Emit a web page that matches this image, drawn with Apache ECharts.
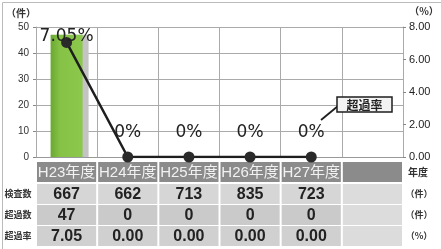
<!DOCTYPE html>
<html><head><meta charset="utf-8">
<script src="https://cdn.jsdelivr.net/npm/echarts@6/dist/echarts.min.js"></script>
<style>html,body{margin:0;padding:0;background:#fff}#c{width:441px;height:249px}</style>
</head><body><div id="c"></div>
<script>
const categories = ['H23年度','H24年度','H25年度','H26年度','H27年度',''];
const exceedCount = [47, 0, 0, 0, 0, null];
const exceedRate = [7.05, 0, 0, 0, 0, null];
const inspectText = ['667','662','713','835','723',''];
const exceedCountText = ['47','0','0','0','0',''];
const exceedRateText = ['7.05','0.00','0.00','0.00','0.00',''];
const rowLabels = ['検査数','超過数','超過率'];
const rowUnits = ['（件）','（件）','（%）'];
const headerUnit = '年度';
const seriesLabel = '超過率';

const FONT = 'Liberation Sans, Noto Sans CJK JP, sans-serif';
const chart = echarts.init(document.getElementById('c'), null, {renderer:'canvas'});

const rateData = exceedRate.map((v,i) => v == null ? null : ({
  value: v,
  label: { distance: i === 0 ? -8 : 10 }
}));

chart.setOption({
  animation: false,
  backgroundColor: '#fff',
  grid: { left: 36, right: 38, top: 27, bottom: 92 },
  xAxis: {
    type: 'category', data: categories, boundaryGap: true,
    axisLine: { show: true, lineStyle: { color: '#999' } },
    axisTick: { show: false },
    axisLabel: { show: false },
    splitLine: { show: true, interval: 0, lineStyle: { color: '#aaa', width: 1 } }
  },
  yAxis: [{
    type: 'value', min: 0, max: 50, interval: 10,
    axisLine: { show: true, lineStyle: { color: '#aaa' } },
    axisTick: { show: true, length: 3, lineStyle: { color: '#888' } },
    axisLabel: { fontSize: 10, color: '#333', margin: 7, fontFamily: FONT },
    splitLine: { show: true, lineStyle: { color: '#aaa' } }
  }, {
    type: 'value', min: 0, max: 8, interval: 2, position: 'right',
    axisLine: { show: true, lineStyle: { color: '#aaa' } },
    axisTick: { show: true, length: 3, lineStyle: { color: '#888' } },
    axisLabel: { fontSize: 11, color: '#222', margin: 6, fontFamily: FONT,
      formatter: v => v.toFixed(2) },
    splitLine: { show: false }
  }],
  series: [{
    type: 'bar', yAxisIndex: 0, data: exceedCount, barWidth: 32,
    itemStyle: {
      color: new echarts.graphic.LinearGradient(0,0,1,0,[
        {offset:0,color:'#6aa833'},{offset:0.3,color:'#86c245'},{offset:1,color:'#8cc84c'}]),
      shadowColor: '#c4c4c4', shadowOffsetX: 6, shadowOffsetY: 0, shadowBlur: 0
    },
    z: 2
  }, {
    type: 'line', yAxisIndex: 1, data: rateData,
    symbol: 'circle', symbolSize: 11,
    itemStyle: { color: '#2a2a2a' },
    lineStyle: { color: '#1e1e1e', width: 2.5 },
    label: { show: true, position: 'top', fontSize: 17, color: '#222',
      fontFamily: 'DejaVu Sans', formatter: p => p.value + '%' },
    z: 5
  }]
});

// Build table and annotations from axis positions
const colW = chart.convertToPixel({xAxisIndex:0}, 1) - chart.convertToPixel({xAxisIndex:0}, 0);
const g = [];
const rowsY = [[162,20],[184,20],[205,20],[226,20]];
const rowBg = ['#8b8b8b','#d6d6d6','#cacaca','#d0d0d0'];
const rowTexts = [categories, inspectText, exceedCountText, exceedRateText];
categories.forEach((c,i) => {
  const cx = chart.convertToPixel({xAxisIndex:0}, i);
  const x0 = cx - colW/2 + 1;
  rowsY.forEach((r,ri) => {
    g.push({ type:'rect', shape:{ x:x0, y:r[0], width:colW-2, height:r[1] },
      style:{ fill: (i===5 && ri>0) ? '#dcdcdc' : rowBg[ri] }, z: 1 });
    const t = rowTexts[ri][i];
    if (t) g.push({ type:'text', x:cx, y:r[0]+r[1]/2+0.5, z: 2,
      style:{ text:t, fill: ri===0 ? '#f2f2f2' : '#222', align:'center', verticalAlign:'middle',
        font: ri===0 ? ('15px ' + FONT) : ('bold 16px ' + FONT) } });
  });
});
rowLabels.forEach((t,ri) => {
  const r = rowsY[ri+1];
  g.push({ type:'text', x:18, y:r[0]+r[1]/2, style:{ text:t, fill:'#333', align:'center',
    verticalAlign:'middle', font:'bold 9px Noto Sans CJK JP' } });
  g.push({ type:'text', x:419, y:r[0]+r[1]/2, style:{ text:rowUnits[ri], fill:'#333', align:'center',
    verticalAlign:'middle', font:'bold 9px Noto Sans CJK JP' } });
});
g.push({ type:'text', x:418, y:172, style:{ text:headerUnit, fill:'#333', align:'center',
  verticalAlign:'middle', font:'bold 10px Noto Sans CJK JP' } });
// axis unit names
g.push({ type:'text', x:21, y:13, style:{ text:'（件）', fill:'#333', align:'center',
  verticalAlign:'middle', font:'bold 10px Noto Sans CJK JP' } });
g.push({ type:'text', x:424, y:11, style:{ text:'（%）', fill:'#333', align:'center',
  verticalAlign:'middle', font:'bold 10px Noto Sans CJK JP' } });
// callout
g.push({ type:'line', shape:{ x1:321, y1:120, x2:338, y2:106 }, style:{ stroke:'#1e1e1e', lineWidth:1.8 }, z: 10 });
g.push({ type:'rect', shape:{ x:337, y:97, width:55, height:15 }, style:{ fill:'#f3f3f3', stroke:'#1e1e1e', lineWidth:1.5 }, z: 10 });
g.push({ type:'text', x:364.5, y:105, z: 11, style:{ text:seriesLabel, fill:'#222', align:'center',
  verticalAlign:'middle', font:'bold 12px Noto Sans CJK JP' } });
// outer frame
g.push({ type:'rect', shape:{ x:2.5, y:2.5, width:470, height:270 }, style:{ fill:null, stroke:'#bbb', lineWidth:1 }, z: 0 });

chart.setOption({ graphic: g });
</script>
</body></html>
